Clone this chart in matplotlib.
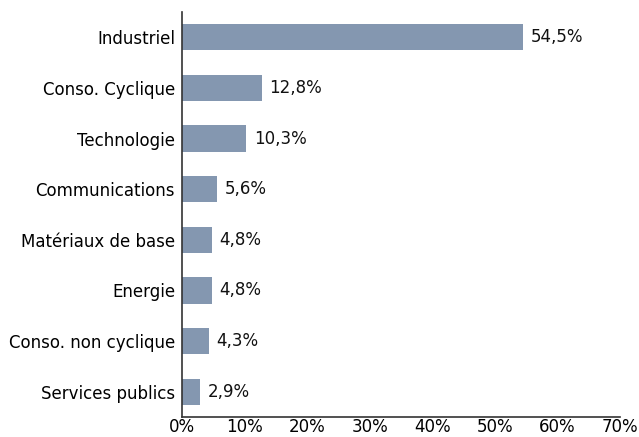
import matplotlib
matplotlib.use("Agg")
import matplotlib.pyplot as plt

categories = ["Industriel", "Conso. Cyclique", "Technologie", "Communications",
              "Matériaux de base", "Energie", "Conso. non cyclique", "Services publics"]
values = [54.5, 12.8, 10.3, 5.6, 4.8, 4.8, 4.3, 2.9]
xticks = [0, 10, 20, 30, 40, 50, 60, 70]

fig = plt.figure(figsize=(6.39, 4.37), dpi=100)
ax = fig.add_axes([182/639, 1-417/437, (620-182)/639, (417-12)/437])

ypos = list(range(len(categories)))
ax.barh(ypos, values, height=0.52, color="#8497B0")
for y, v in zip(ypos, values):
    ax.text(v + 1.2, y, f"{v:.1f}%".replace(".", ","), va="center", ha="left",
            fontsize=12, color="#111111")

ax.set_yticks(ypos)
ax.set_yticklabels(categories, fontsize=12)
ax.set_ylim(len(categories) - 0.5, -0.5)
ax.set_xlim(0, 70)
ax.set_xticks(xticks)
ax.set_xticklabels([f"{t}%" for t in xticks], fontsize=12)
ax.tick_params(axis="y", length=0, pad=5)
ax.tick_params(axis="x", length=0, pad=1)
for s in ["top", "right"]:
    ax.spines[s].set_visible(False)
for s in ["left", "bottom"]:
    ax.spines[s].set_color("#333333")
    ax.spines[s].set_linewidth(1.2)

fig.savefig("out.png", dpi=100)
